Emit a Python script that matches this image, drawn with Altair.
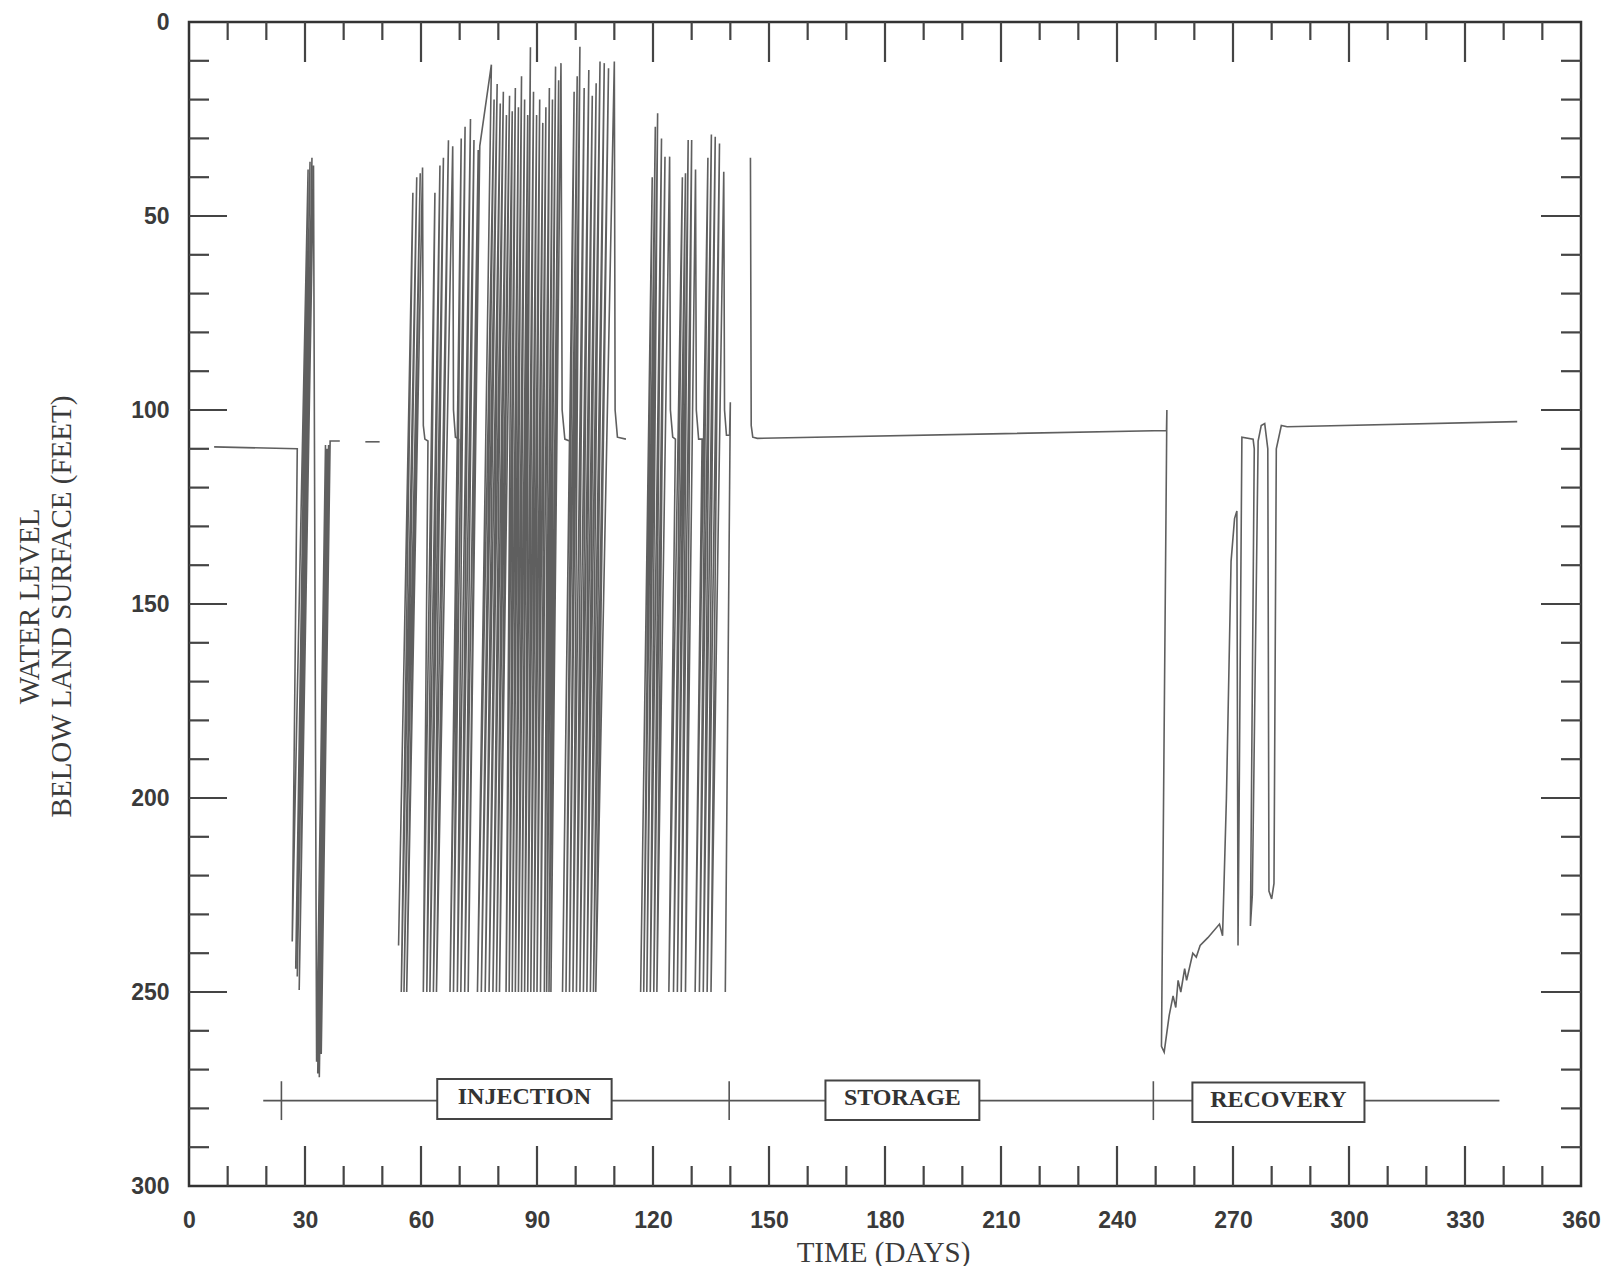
import altair as alt
import pandas as pd

W, H = 1392, 1164

# ---- axis tick positions ----
X_LABELS = [0, 30, 60, 90, 120, 150, 180, 210, 240, 270, 300, 330, 360]
Y_LABELS = [0, 50, 100, 150, 200, 250, 300]
X_MAJOR = [30, 60, 90, 120, 150, 180, 210, 240, 270, 300, 330]
X_MINOR = [10, 20, 40, 50, 70, 80, 100, 110, 130, 140, 160, 170, 190, 200, 220, 230,
           250, 260, 280, 290, 310, 320, 340, 350]
Y_MAJOR = [50, 100, 150, 200, 250]
Y_MINOR = [10, 20, 30, 40, 60, 70, 80, 90, 110, 120, 130, 140, 160, 170, 180, 190,
           210, 220, 230, 240, 260, 270, 280, 290]

# ---- water level trace (day, depth below land surface) ----
SEG1_DAY = [6.5, 28.0, 26.7, 30.8, 27.6, 31.3, 28.0, 31.8, 28.5, 32.2,
            33.0, 35.3, 33.3, 35.7, 33.7, 36.1, 34.2, 36.5, 39.0]
SEG1_DEPTH = [109.5, 110.0, 237, 38, 244, 36, 246, 35, 249.5, 37,
              268, 109, 271, 110, 272, 109, 266, 108, 108]

SEG2_DAY = [45.6, 49.3]
SEG2_DEPTH = [108.2, 108.2]

SEG3_DAY = [
    # group A
    54.2, 57.9, 54.9, 58.9, 55.6, 59.8, 56.3, 60.4, 60.6, 61.0, 61.8,
    # group B
    60.6, 63.6, 61.5, 64.9, 62.3, 65.8, 63.2, 67.1, 64.0, 68.2, 68.4, 68.9, 69.8,
    # group C
    67.5, 70.4, 68.4, 71.4, 69.4, 72.8, 70.3, 73.7, 71.3, 74.8, 72.2, 75.2, 78.2,
    # group D1
    74.6, 78.9, 75.6, 79.7, 76.6, 80.5, 77.6, 81.3, 78.6, 82.1, 79.5, 82.9, 80.3, 83.6,
    # group D2
    82.0, 84.4, 82.8, 85.2, 83.6, 86.0, 84.4, 86.8, 85.2, 87.6, 86.0, 88.3,
    86.8, 89.1, 87.6, 89.9, 88.4, 90.7, 89.2, 91.5, 90.0, 92.3, 90.9, 93.2,
    91.9, 94.0, 92.5, 94.8, 93.1, 95.6, 93.6, 96.2, 96.5, 97.2, 98.4,
    # group E
    96.6, 99.6, 97.5, 100.4, 98.4, 101.1, 99.3, 102.2, 100.2, 103.4, 101.1, 104.3,
    102.0, 105.3, 102.9, 106.3, 103.8, 107.4, 104.6, 108.5, 105.2, 110.0,
    110.2, 110.8, 113.0,
]
SEG3_DEPTH = [
    238, 44, 250, 40, 250, 39, 250, 37.5, 104, 107.5, 108,
    250, 44, 250, 37, 250, 35, 250, 30.5, 250, 32, 100, 107, 107.5,
    250, 30, 250, 27, 250, 25, 250, 30.4, 250, 33, 250, 32, 11,
    250, 20, 250, 16, 250, 21, 250, 18, 250, 24, 250, 19, 250, 23,
    250, 17, 250, 22, 250, 14, 250, 20, 250, 24, 250, 6.5,
    250, 18, 250, 24, 250, 20, 250, 26, 250, 22, 250, 17,
    250, 20, 250, 11.5, 250, 15, 250, 10.6, 100, 107.5, 108,
    250, 18, 250, 14, 250, 6.4, 250, 17, 250, 12.4, 250, 19,
    250, 15.8, 250, 10.2, 250, 10.6, 250, 11.9, 250, 10.2,
    100, 107, 107.5,
]

SEG4_DAY = [
    # group F
    116.8, 119.8, 117.6, 120.6, 118.4, 121.2, 119.3, 122.2, 120.2, 123.1, 121.0, 124.3,
    124.5, 125.1, 125.8,
    # group G
    124.1, 127.6, 125.3, 128.4, 126.3, 129.1, 127.3, 130.0, 128.4, 131.0,
    131.2, 131.8, 132.7,
    # group H
    130.9, 134.2, 132.0, 135.1, 133.0, 136.1, 134.0, 137.2, 135.0, 138.3,
    138.5, 139.0, 139.8, 140.0, 138.7,
]
SEG4_DEPTH = [
    250, 40, 250, 27, 250, 23.5, 250, 30, 250, 34.7, 250, 34.7,
    100, 107, 107.5,
    250, 40, 250, 39, 250, 30.4, 250, 30.4, 250, 38,
    100, 107.5, 107.5,
    250, 35, 250, 29, 250, 29.6, 250, 31.3, 250, 38.6,
    100, 106.5, 106.5, 98, 250,
]

SEG5_DAY = [145.2, 145.3, 145.4, 145.8, 147.0, 252.8, 252.9, 251.5, 252.2, 253.5,
            254.5, 255.2, 255.8, 256.5, 257.5, 258.0, 259.6, 260.5, 261.5, 263.5,
            266.5, 267.3, 268.3, 269.5, 270.4, 271.0, 271.3, 271.6, 272.3, 275.2,
            275.5, 274.5, 275.0, 276.5, 277.3, 278.2, 279.0, 279.3, 280.0, 280.6,
            281.2, 282.5, 284.0, 343.5]
SEG5_DEPTH = [35, 70, 104, 107, 107.3, 105.3, 100, 264, 265.5, 256,
              251, 254, 247, 250, 244, 247, 240, 241, 238, 236,
              232.5, 235.5, 200, 139, 128, 126, 238, 200, 107, 107.5,
              110, 233, 225, 108, 104, 103.5, 110, 224, 226, 222,
              110, 104, 104.3, 103.0]

SEGMENTS = [(SEG1_DAY, SEG1_DEPTH), (SEG2_DAY, SEG2_DEPTH), (SEG3_DAY, SEG3_DEPTH),
            (SEG4_DAY, SEG4_DEPTH), (SEG5_DAY, SEG5_DEPTH)]

# ---- phase bar ----
PHASE_BAR_DAY = [19.2, 338.9]
PHASE_BAR_DEPTH = 278.0
PHASE_TICKS = [23.9, 139.7, 249.4]
PHASE_NAMES = ["INJECTION", "STORAGE", "RECOVERY"]
PHASE_BOX_START = [64.2, 164.6, 259.5]
PHASE_BOX_END = [109.3, 204.4, 304.0]
PHASE_BOX_TOP = [272.4, 272.8, 273.3]
PHASE_BOX_BOTTOM = [282.7, 283.0, 283.5]

# ---- build tables ----
rows = []
for s, (days, depths) in enumerate(SEGMENTS):
    for i, (d, v) in enumerate(zip(days, depths)):
        rows.append({"seg": s, "order": i, "day": d, "depth": v})
trace = pd.DataFrame(rows)

boxes = pd.DataFrame({
    "name": PHASE_NAMES,
    "day": PHASE_BOX_START, "day2": PHASE_BOX_END,
    "depth": PHASE_BOX_TOP, "depth2": PHASE_BOX_BOTTOM,
})
boxes["mid"] = (boxes["day"] + boxes["day2"]) / 2
boxes["midd"] = (boxes["depth"] + boxes["depth2"]) / 2 - 0.5

xs = alt.Scale(domain=[0, 360], nice=False, zero=False)
ys = alt.Scale(domain=[0, 300], nice=False, zero=False, reverse=True)

TXT = "#3a3a3a"
TICKC = "#444444"

x_axis = alt.Axis(values=X_LABELS, ticks=False, domain=False, grid=False,
                  labelFont="Liberation Sans", labelFontWeight="bold", labelFontSize=23,
                  labelColor=TXT, labelPadding=23, labelFlush=False, labelOverlap=False,
                  title="TIME (DAYS)", titleFont="Liberation Serif", titleFontSize=29,
                  titleFontWeight="normal", titleColor=TXT, titleX=694, titleY=66,
                  titleBaseline="middle", titleAlign="center")
y_axis = alt.Axis(values=Y_LABELS, ticks=False, domain=False, grid=False,
                  labelFont="Liberation Sans", labelFontWeight="bold", labelFontSize=23,
                  labelColor=TXT, labelPadding=20, labelFlush=False, labelOverlap=False,
                  title=["WATER LEVEL", "BELOW LAND SURFACE (FEET)"],
                  titleFont="Liberation Serif", titleFontSize=29, titleFontWeight="normal",
                  titleColor=TXT, titleAngle=270, titleX=-160, titleY=584,
                  titleAlign="center", titleBaseline="middle", titleLineHeight=32)

XENC = dict(scale=xs, axis=x_axis)
YENC = dict(scale=ys, axis=y_axis)

line = alt.Chart(trace).mark_line(stroke="#5f5f5f", strokeWidth=1.6).encode(
    x=alt.X("day:Q", **XENC),
    y=alt.Y("depth:Q", **YENC),
    detail="seg:N",
    order="order:Q",
)

def xticks(vals, length, top):
    df = pd.DataFrame({"day": vals})
    if top:
        y0, y1 = 0, length
    else:
        y0, y1 = H, H - length
    return alt.Chart(df).mark_rule(stroke=TICKC, strokeWidth=2.2).encode(
        x=alt.X("day:Q", **XENC),
        y=alt.value(y0), y2=alt.value(y1))

def yticks(vals, length, right):
    df = pd.DataFrame({"depth": vals})
    if right:
        x0, x1 = W, W - length
    else:
        x0, x1 = 0, length
    return alt.Chart(df).mark_rule(stroke=TICKC, strokeWidth=2.2).encode(
        y=alt.Y("depth:Q", **YENC),
        x=alt.value(x0), x2=alt.value(x1))

bar_df = pd.DataFrame({"day": [PHASE_BAR_DAY[0]], "day2": [PHASE_BAR_DAY[1]],
                       "depth": [PHASE_BAR_DEPTH]})
phase_bar = alt.Chart(bar_df).mark_rule(stroke="#555555", strokeWidth=1.6).encode(
    x=alt.X("day:Q", **XENC), x2="day2:Q",
    y=alt.Y("depth:Q", **YENC))

ptick_df = pd.DataFrame({"day": PHASE_TICKS, "depth": [273.0] * 3, "depth2": [283.0] * 3})
phase_ticks = alt.Chart(ptick_df).mark_rule(stroke="#555555", strokeWidth=1.6).encode(
    x=alt.X("day:Q", **XENC),
    y=alt.Y("depth:Q", **YENC), y2="depth2:Q")

box = alt.Chart(boxes).mark_rect(fill="white", stroke="#444444", strokeWidth=2).encode(
    x=alt.X("day:Q", **XENC), x2="day2:Q",
    y=alt.Y("depth:Q", **YENC), y2="depth2:Q")

box_text = alt.Chart(boxes).mark_text(font="Liberation Serif", fontWeight="bold",
                                      fontSize=24, color="#333333",
                                      baseline="middle", align="center").encode(
    x=alt.X("mid:Q", scale=xs, axis=x_axis),
    y=alt.Y("midd:Q", scale=ys, axis=y_axis),
    text="name:N")

chart = alt.layer(
    line,
    xticks(X_MINOR, 18, True), xticks(X_MAJOR, 40, True),
    xticks(X_MINOR, 20, False), xticks(X_MAJOR, 40, False),
    yticks(Y_MINOR, 20, False), yticks(Y_MAJOR, 38, False),
    yticks(Y_MINOR, 20, True), yticks(Y_MAJOR, 40, True),
    phase_bar, phase_ticks, box, box_text,
).properties(
    width=W, height=H,
    autosize=alt.AutoSizeParams(type="none"),
    padding={"left": 181, "top": 14, "right": 22, "bottom": 80},
    background="white",
).configure_view(stroke="#333333", strokeWidth=2.5)

chart.save("out.html", embed_options={"renderer": "svg", "actions": False})
